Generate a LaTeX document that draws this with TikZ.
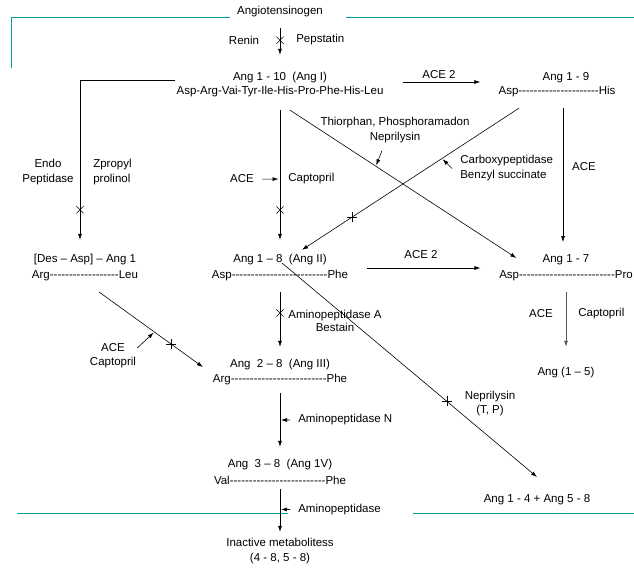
\documentclass[tikz,border=0pt]{standalone}
\usepackage{fontspec}
\setmainfont{Liberation Sans}[Ligatures=TeXOff]
\usetikzlibrary{arrows.meta}
\usetikzlibrary{shapes}

\definecolor{framecol}{RGB}{0,158,158}

\begin{document}
\begin{tikzpicture}[x=1pt, y=-1pt, line width=0.6pt,
    every node/.style={font=\fontsize{11.5}{15}\selectfont, inner sep=1pt},
    arr/.style={-{Latex[length=6pt,width=4pt]}},
    xmark/.style={-, shorten <=0pt, shorten >=0pt, cross out, draw, minimum size=6.5pt, inner sep=0pt},
    plusmark/.style={-, shorten <=0pt, shorten >=0pt, cross out, draw, rotate=45, minimum size=6.5pt, inner sep=0pt}]
            \useasboundingbox (0,0) rectangle (634,571);

            %%%%%%%%
            % frame lines
            %%%%%%%%
            \draw[framecol, line width=1pt] (11,68) -- (11,17) -- (230,17);
            \draw[framecol, line width=1pt] (346,17) -- (634,17);
            \draw[framecol, line width=1pt] (17,513) -- (288,513);
            \draw[framecol, line width=1pt] (413,513) -- (634,513);

            %%%%%%%%
            % peptides
            %%%%%%%%
            \node (angio) at (280,12) {Angiotensinogen};
            \node (angI) at (280,78) {Ang 1 - 10~~(Ang I)};
            \node (angIseq) at (280,92) {Asp-Arg-Vai-Tyr-Ile-His-Pro-Phe-His-Leu};
            \node (ang19) at (566,78) {Ang 1 - 9};
            \node (ang19seq) at (557,92) {Asp---------------------His};
            \node (desasp) at (85,260) {[Des – Asp] – Ang 1};
            \node (desaspseq) at (85,276) {Arg------------------Leu};
            \node (angII) at (280,260) {Ang 1 – 8~~(Ang II)};
            \node (angIIseq) at (280,276) {Asp-------------------------Phe};
            \node (ang17) at (566,260) {Ang 1 - 7};
            \node (ang17seq) at (566,276) {Asp-------------------------Pro};
            \node (angIII) at (280,365) {Ang~~2 – 8~~(Ang III)};
            \node (angIIIseq) at (280,380) {Arg-------------------------Phe};
            \node (ang15) at (566,373) {Ang (1 – 5)};
            \node (angIV) at (280,465) {Ang~~3 – 8~~(Ang 1V)};
            \node (angIVseq) at (280,480) {Val-------------------------Phe};
            \node (ang1458) at (537,500) {Ang 1 - 4 + Ang 5 - 8};
            \node[align=center] (inactive) at (280,551.5) {Inactive metabolitess\\(4 - 8, 5 - 8)};

            %%%%%%%%
            % enzymes and blockers
            %%%%%%%%
            \node (renin) at (244,40) {Renin};
            \node[anchor=west] (pepstatin) at (295,40) {Pepstatin};
            \node (ace2top) at (439,75) {ACE 2};
            \node[align=center] (thio) at (395,130.5) {Thiorphan, Phosphoramadon\\Neprilysin};
            \node[align=center] (endo) at (48,172.5) {Endo\\Peptidase};
            \node[align=left, anchor=west] (zpropyl) at (92,172.5) {Zpropyl\\prolinol};
            \node (aceA) at (242,179) {ACE};
            \node[anchor=west] (captA) at (287,179) {Captopril};
            \node[align=left, anchor=west] (carbo) at (459,168.5) {Carboxypeptidase\\Benzyl succinate};
            \node (aceB) at (584,167) {ACE};
            \node (ace2low) at (421,255) {ACE 2};
            \node[align=center] (amA) at (335,320.5) {Aminopeptidase A\\[-2pt]Bestain};
            \node[align=center] (acecap) at (113,355.5) {ACE\\[-1pt]Captopril};
            \node (aceC) at (541,314) {ACE};
            \node[anchor=west] (captC) at (577,314) {Captopril};
            \node[align=center] (nepB) at (490,403.5) {Neprilysin\\[-1pt](T, P)};
            \node[anchor=west] (amN) at (297,420) {Aminopeptidase N};
            \node[anchor=west] (amP) at (297,510) {Aminopeptidase};

            %%%%%%%%
            % reactions
            %%%%%%%%

            % draw renin step
            \draw[arr, shorten <=9.5pt, shorten >=16.5pt] (angio) -- node[xmark, pos=.41] (reninx) {} (angI);

            % draw ACE 2 steps
            \draw[arr, shorten <=18pt, shorten >=17pt] ([yshift=10pt]angIseq.east) -- ([yshift=10pt]ang19seq.west);
            \draw[arr, shorten <=17.5pt, shorten >=17.5pt] ([yshift=8pt]angIIseq.east) -- ([yshift=8pt]ang17seq.west);

            % draw endopeptidase branch
            \draw[arr, shorten >=13.5pt] ([yshift=5pt]angIseq.north west) -| node[xmark, pos=.874] (endox) {} ([xshift=-5pt]desasp.north);

            % draw ACE step
            \draw[arr, shorten <=11.5pt, shorten >=13.5pt] (angIseq) -- node[xmark, pos=.72] (acex) {} coordinate[pos=.52] (aceApt) (angII);
            \draw[arr, shorten <=7pt, shorten >=1.5pt] (aceA) -- (aceApt);

            % draw neprilysin step
            \draw[arr] ([xshift=10pt,yshift=-11.5pt]angIseq.south) -- coordinate[pos=.379] (nepApt) ([xshift=-25pt,yshift=2pt]ang17.west);
            \draw[arr, shorten >=1pt] ([xshift=-13pt,yshift=-6pt]thio.south) -- (nepApt);

            % draw carboxypeptidase step
            \draw[arr] ([xshift=-38pt,yshift=-9.5pt]ang19seq.south) -- node[plusmark, pos=.77] (carbx) {} coordinate[pos=.355] (carbApt) ([xshift=22pt,yshift=3.5pt]angII.north);
            \draw[arr, shorten >=1pt] ([xshift=-7pt]carbo.west) -- (carbApt);

            % draw ACE from Ang 1 - 9
            \draw[arr, shorten <=9.5pt, shorten >=11.5pt] ([xshift=6pt]ang19seq.south) -- ([xshift=-3pt]ang17.north);

            % draw des-asp step
            \draw[arr] ([xshift=14pt,yshift=-9.5pt]desaspseq.south) -- node[plusmark, pos=.695] (desx) {} coordinate[pos=.533] (acecapPt) ([xshift=-26pt,yshift=-2pt]angIII.west);
            \draw[arr, shorten >=1pt] ([yshift=7.5pt]acecap.east) -- (acecapPt);

            % draw aminopeptidase A step
            \draw[arr, shorten <=9.5pt, shorten >=11.5pt] (angIIseq) -- node[xmark, pos=.40] (amAx) {} (angIII);

            % draw neprilysin cut of Ang II
            \draw[arr] ([xshift=2pt,yshift=-3pt]angII.center) -- node[plusmark, pos=.647] (nepBx) {} ([yshift=16.5pt]ang1458.north);

            % draw aminopeptidase N step
            \draw[arr, shorten <=6.5pt, shorten >=11.5pt] (angIIIseq) -- coordinate[pos=.465] (amNpt) (angIV);
            \draw[arr, shorten <=7pt, shorten >=1pt] (amN) -- (amNpt);

            % draw last aminopeptidase step
            \draw[arr, shorten <=3.5pt, shorten >=5.5pt] (angIVseq) -- coordinate[pos=.46] (amPpt) (inactive);
            \draw[arr, shorten <=7pt, shorten >=1pt] (amP) -- (amPpt);

            % draw ACE from Ang 1 - 7
            \draw[arr, draw=gray!70!black, line width=0.8pt, shorten <=9.5pt, shorten >=19.5pt] (ang17seq) -- (ang15);
\end{tikzpicture}
\end{document}
